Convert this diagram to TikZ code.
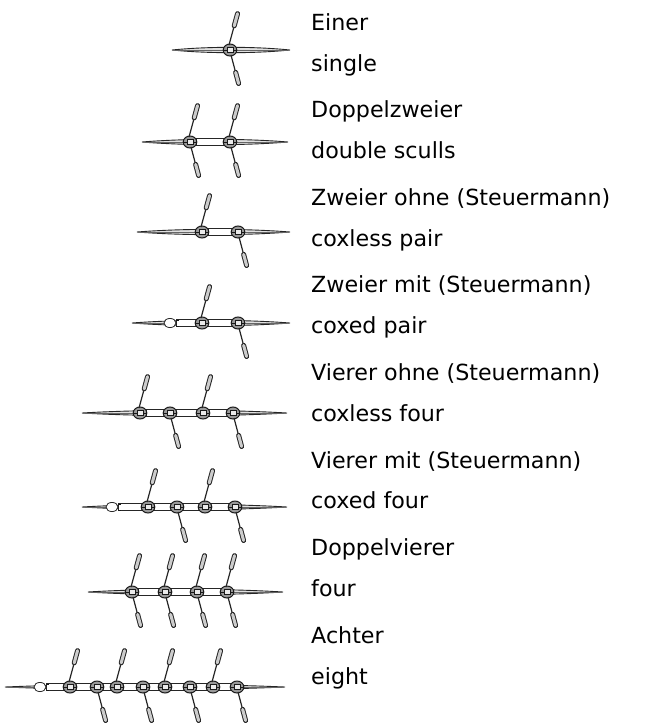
\documentclass[tikz,border=0pt]{standalone}
\usepackage{fontspec}
\setmainfont{DejaVu Sans}
\usetikzlibrary{calc}

% hull of a racing shell: thin lens from bow to stern, y is the keel line
\newcommand{\boathull}[3]{%
  \path[hullline] (#1,#3) .. controls ({#1+0.3*(#2-#1)},{#3-3.6}) and ({#1+0.7*(#2-#1)},{#3-3.6}) .. (#2,#3)
    .. controls ({#1+0.7*(#2-#1)},{#3+3.6}) and ({#1+0.3*(#2-#1)},{#3+3.6}) .. cycle;
  \draw[keel] ({#1+3},#3) -- ({#2-3},#3);
}
% open cockpit between first and last seat
\newcommand{\cockpit}[3]{%
  \draw[seatbox] (#1,{#3-3.4}) rectangle (#2,{#3+3.4});
}
% rower's seat with rigger
\newcommand{\rowseat}[2]{%
  \draw[rigger] (#1,#2) ellipse (6.8 and 6);
  \draw[riggerin] ({#1-3},{#2-2.6}) rectangle ({#1+3},{#2+2.6});
  \draw[riggerin] ({#1-6.8},#2) -- ({#1-3},#2) ({#1+3},#2) -- ({#1+6.8},#2);
}
% coxswain's seat
\newcommand{\coxpit}[2]{%
  \draw[coxseat] (#1,#2) ellipse (6 and 4.6);
  \draw[riggerin] ({#1+6},{#2-3}) -- ({#1+9},{#2-3}) ({#1+6},{#2+3}) -- ({#1+9},{#2+3});
}
% oar from a base point to the blade tip
\newcommand{\oar}[4]{%
  \draw[oarshaft] (#1,#2) -- (#3,#4);
  \draw[bladeout] ($(#1,#2)!0.58!(#3,#4)$) -- ($(#1,#2)!0.95!(#3,#4)$);
  \draw[bladein] ($(#1,#2)!0.58!(#3,#4)$) -- ($(#1,#2)!0.95!(#3,#4)$);
}
\newcommand{\oarup}[2]{\oar{#1-1}{#2-5}{#1+8}{#2-38}}
\newcommand{\oardown}[2]{\oar{#1+1}{#2+5}{#1+9}{#2+35}}

\begin{document}
\begin{tikzpicture}[x=1pt,y=-1pt,
  hullline/.style={draw=black!85, line width=0.9pt, fill=black!12},
  keel/.style={draw=black!60, line width=0.5pt},
  seatbox/.style={draw=black!85, line width=0.8pt, fill=white},
  rigger/.style={draw=black!90, line width=1pt, fill=black!40},
  riggerin/.style={draw=black!90, line width=0.7pt, fill=black!8},
  coxseat/.style={draw=black!85, line width=0.8pt, fill=white},
  oarshaft/.style={draw=black!85, line width=1.2pt},
  bladeout/.style={draw=black!85, line width=5pt, line cap=round},
  bladein/.style={draw=black!20, line width=3pt, line cap=round},
  boatname/.style={anchor=base west, inner sep=0pt, text=black,
    font=\fontsize{22.2}{26}\selectfont},
]
\useasboundingbox (0,0) rectangle (672,724);

% ---- Einer / single
\boathull{172}{290}{50}
\rowseat{230}{50}
\oarup{230}{50} \oardown{230}{50}

% ---- Doppelzweier / double sculls
\boathull{142}{288}{142}
\cockpit{196}{224}{142}
\foreach \s in {190,230}{\rowseat{\s}{142} \oarup{\s}{142} \oardown{\s}{142}}

% ---- Zweier ohne / coxless pair
\boathull{137}{290}{232}
\cockpit{208}{232}{232}
\rowseat{202}{232} \oarup{202}{232}
\rowseat{238}{232} \oardown{238}{232}

% ---- Zweier mit / coxed pair
\boathull{132}{290}{323}
\cockpit{176}{232}{323}
\coxpit{170}{323}
\rowseat{202}{323} \oarup{202}{323}
\rowseat{238}{323} \oardown{238}{323}

% ---- Vierer ohne / coxless four
\boathull{82}{287}{413}
\cockpit{146}{227}{413}
\foreach \s in {140,203}{\rowseat{\s}{413} \oarup{\s}{413}}
\foreach \s in {170,233}{\rowseat{\s}{413} \oardown{\s}{413}}

% ---- Vierer mit / coxed four
\boathull{82}{287}{507}
\cockpit{118}{229}{507}
\coxpit{112}{507}
\foreach \s in {148,205}{\rowseat{\s}{507} \oarup{\s}{507}}
\foreach \s in {177,235}{\rowseat{\s}{507} \oardown{\s}{507}}

% ---- Doppelvierer / quad
\boathull{88}{283}{592}
\cockpit{138}{221}{592}
\foreach \s in {132,165,197,227}{\rowseat{\s}{592} \oarup{\s}{592} \oardown{\s}{592}}

% ---- Achter / eight
\boathull{5}{285}{687}
\cockpit{46}{231}{687}
\coxpit{40}{687}
\foreach \s in {70,117,165,213}{\rowseat{\s}{687} \oarup{\s}{687}}
\foreach \s in {97,143,190,237}{\rowseat{\s}{687} \oardown{\s}{687}}

% ---- names of the boat classes
\node[boatname] (g1) at (311,30)  {Einer};
\node[boatname] (e1) at (311,71)  {single};
\node[boatname] (g2) at (311,117) {Doppelzweier};
\node[boatname] (e2) at (311,158) {double sculls};
\node[boatname] (g3) at (311,205) {Zweier ohne (Steuermann)};
\node[boatname] (e3) at (311,246) {coxless pair};
\node[boatname] (g4) at (311,292) {Zweier mit (Steuermann)};
\node[boatname] (e4) at (311,333) {coxed pair};
\node[boatname] (g5) at (311,380) {Vierer ohne (Steuermann)};
\node[boatname] (e5) at (311,421) {coxless four};
\node[boatname] (g6) at (311,468) {Vierer mit (Steuermann)};
\node[boatname] (e6) at (311,508) {coxed four};
\node[boatname] (g7) at (311,555) {Doppelvierer};
\node[boatname] (e7) at (311,596) {four};
\node[boatname] (g8) at (311,643) {Achter};
\node[boatname] (e8) at (311,684) {eight};
\end{tikzpicture}
\end{document}
